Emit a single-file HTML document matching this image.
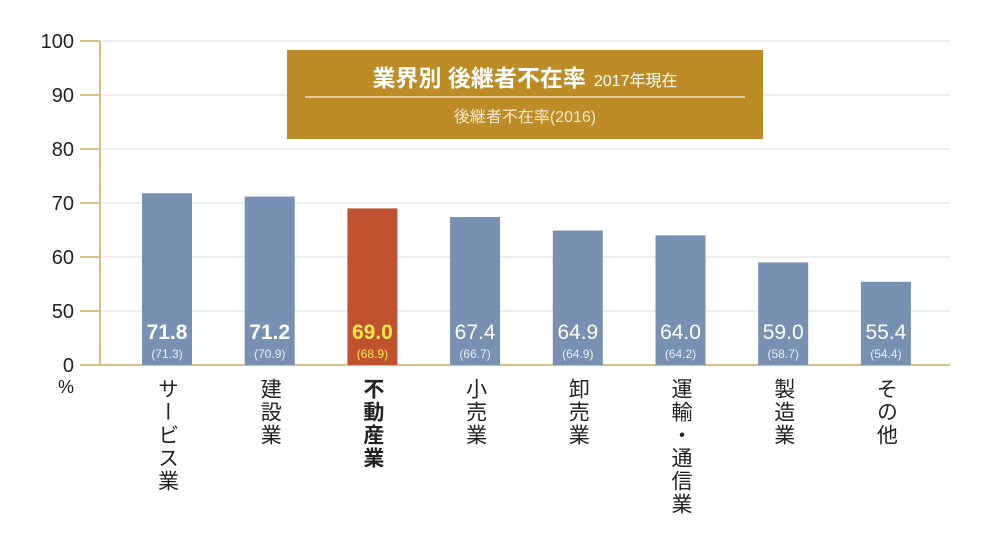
<!DOCTYPE html>
<html><head><meta charset="utf-8"><style>
body{margin:0;background:#fff;font-family:"Liberation Sans","Noto Sans CJK JP",sans-serif}
svg text{font-family:"Liberation Sans","Noto Sans CJK JP",sans-serif}
</style></head><body>
<svg id="c" width="1000" height="530" viewBox="0 0 1000 530">
<g id="grid"></g><g id="bars"></g><g id="labels"></g>
<g>
<rect x="287" y="50" width="476" height="89" fill="#bd8c26"/>
<text x="525" y="86" text-anchor="middle" fill="#fff"><tspan font-size="23" font-weight="bold">業界別 後継者不在率</tspan><tspan font-size="16" dx="8">2017年現在</tspan></text>
<line x1="305" y1="97" x2="745" y2="97" stroke="#f2e2bd" stroke-width="1.5"/>
<text x="525" y="122" text-anchor="middle" fill="#f5e8cc" font-size="16">後継者不在率(2016)</text>
</g>
</svg>
<script>
const categories=["サービス業","建設業","不動産業","小売業","卸売業","運輸・通信業","製造業","その他"];
const values2017=[71.8,71.2,69.0,67.4,64.9,64.0,59.0,55.4];
const values2016=[71.3,70.9,68.9,66.7,64.9,64.2,58.7,54.4];
const ticks=[0,50,60,70,80,90,100];
const highlight=2;
const NS="http://www.w3.org/2000/svg";
function y(v){return v<=50?365-v/50*54:311-(v-50)*5.4;}
function x(i){return 167+i*102.7;}
function mk(t,a,p){const e=document.createElementNS(NS,t);for(const k in a)e.setAttribute(k,a[k]);p.appendChild(e);return e;}
const g=document.getElementById('grid');
ticks.forEach(t=>{
 const l=mk('line',{x1:100,x2:950,y1:y(t),y2:y(t),stroke:t===0?'#d9bf86':'#eeeeee','stroke-width':t===0?2:2},g);
 
 
 mk('line',{x1:80,x2:100,y1:y(t),y2:y(t),stroke:'#d9bf86','stroke-width':2},g);
 const tx=mk('text',{x:74,y:y(t)+7,'text-anchor':'end','font-size':20,fill:'#222'},g);tx.textContent=t;
 
 
});
mk('line',{x1:100,x2:100,y1:41,y2:366,stroke:'#d9bf86','stroke-width':2},g);
const pc=mk('text',{x:74,y:393,'text-anchor':'end','font-size':18,fill:'#222'},g);pc.textContent='%';


const b=document.getElementById('bars'),lb=document.getElementById('labels');
categories.forEach((c,i)=>{
 const hi=i===highlight;
 const r=mk('rect',{x:x(i)-25,y:y(values2017[i]),width:50,height:365-y(values2017[i]),fill:hi?'#c0532f':'#7891b2'},b);
 
 
 const v=mk('text',{x:x(i),y:339,'text-anchor':'middle','font-size':21,fill:hi?'#ffe84a':'#fff','font-weight':(i<3)?'bold':'normal'},lb);v.textContent=values2017[i].toFixed(1);
 
 
 const v2=mk('text',{x:x(i),y:358,'text-anchor':'middle','font-size':12,fill:hi?'#ffe84a':'#e8eef6'},lb);v2.textContent='('+values2016[i].toFixed(1)+')';
 
 
 const ct=mk('text',{x:x(i),y:378,'font-size':21,fill:'#222','font-weight':hi?'bold':'normal',style:'writing-mode:vertical-rl;letter-spacing:2px'},lb);ct.textContent=c;
 
 
});
</script>
</body></html>
